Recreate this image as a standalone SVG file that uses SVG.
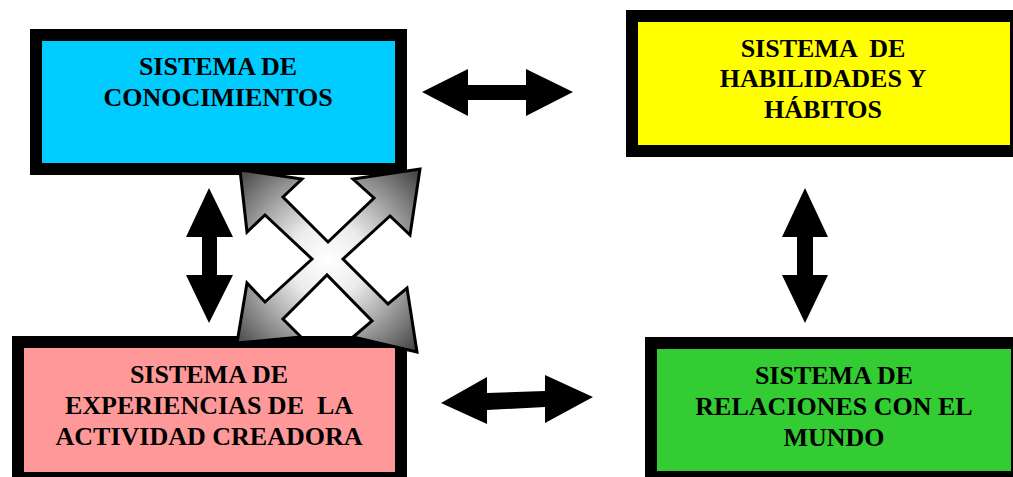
<svg xmlns="http://www.w3.org/2000/svg" width="1013" height="477" viewBox="0 0 1013 477">
<style>
.box{stroke:#000;stroke-width:12}
.lbl{font-family:"Liberation Serif","Times New Roman",serif;font-weight:bold;font-size:26px;fill:#000;text-anchor:middle}
.arr{fill:#000;stroke:none}
</style>
<defs>
<radialGradient id="xg" gradientUnits="userSpaceOnUse" cx="328" cy="260" r="125">
<stop offset="0" stop-color="#ffffff"/>
<stop offset="0.3" stop-color="#ececec"/>
<stop offset="0.6" stop-color="#a8a8a8"/>
<stop offset="1" stop-color="#444444"/>
</radialGradient>
</defs>
<rect width="1013" height="477" fill="#fff"/>
<g id="conocimientos">
<rect class="box" x="36" y="35" width="365" height="134" fill="#00CCFF"/>
<text class="lbl" x="218" y="75">SISTEMA DE</text>
<text class="lbl" x="218" y="106">CONOCIMIENTOS</text>
</g>
<g id="habilidades">
<rect class="box" x="632" y="16" width="384" height="135" fill="#FFFF00"/>
<text class="lbl" x="823" y="57" xml:space="preserve">SISTEMA  DE</text>
<text class="lbl" x="823" y="87">HABILIDADES Y</text>
<text class="lbl" x="823" y="118">HÁBITOS</text>
</g>
<g id="experiencias">
<rect class="box" x="18" y="342" width="383" height="136" fill="#FF9999"/>
<text class="lbl" x="209" y="383">SISTEMA DE</text>
<text class="lbl" x="209" y="414" xml:space="preserve">EXPERIENCIAS DE  LA</text>
<text class="lbl" x="209" y="445">ACTIVIDAD CREADORA</text>
</g>
<g id="relaciones">
<rect class="box" x="651" y="343" width="366" height="134" fill="#33CC33"/>
<text class="lbl" x="834" y="384">SISTEMA DE</text>
<text class="lbl" x="834" y="415">RELACIONES CON EL</text>
<text class="lbl" x="834" y="446">MUNDO</text>
</g>
<g id="connectors">
<polygon class="arr" points="422,92 468,69 468,85 526,85 526,69 573,92 526,116 526,100 468,100 468,116"/>
<polygon class="arr" points="441,403 487,377 487,393 545,391 545,375 593,397 545,423 545,407 487,410 487,424"/>
<polygon class="arr" points="209,188 233,237 217,237 217,275 233,275 209,323 186,275 202,275 202,237 186,237"/>
<polygon class="arr" points="805,188 828,237 813,237 813,275 828,275 805,323 782,275 797,275 797,237 782,237"/>
<polygon fill="url(#xg)" stroke="#000" stroke-width="3" stroke-linejoin="miter" points="328,242 374,198 353,179 420,169 410,235 390,216 343,259 388,304 407,288 417,352 353,337 372,321 327,275 283,319 301,337 237,343 247,283 265,302 312,259 265,215 247,232 240,170 302,179 283,197"/>
</g>
</svg>
